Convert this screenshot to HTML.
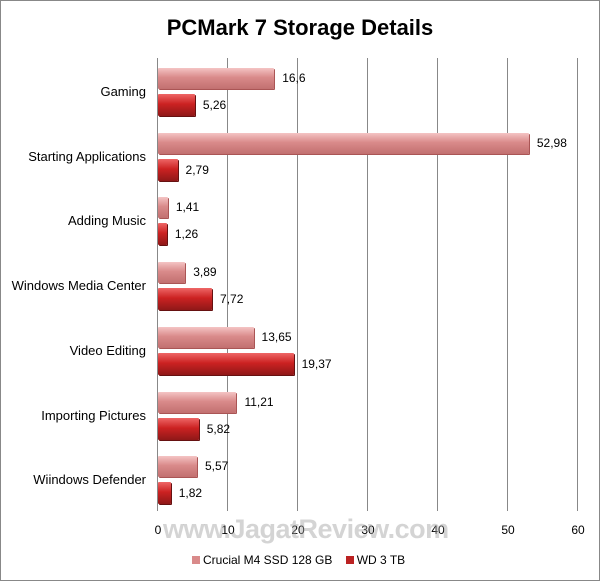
<!DOCTYPE html>
<html><head><meta charset="utf-8"><style>
body{margin:0;background:#fff}
.w{position:relative;width:598px;height:579px;border:1px solid #888;overflow:hidden;font-family:"Liberation Sans",sans-serif;background:#fff}
.t{position:absolute;top:14px;left:0;width:598px;text-align:center;font-size:22px;font-weight:bold}
.g{position:absolute;top:57px;height:453px;width:1px;background:#888}
.c{position:absolute;left:0;width:145px;text-align:right;font-size:13px}
.b{position:absolute;border-radius:1px}
.p{background:linear-gradient(#f4c4c4,#d98a8a 45%,#c27070);box-shadow:1px 1px 0 #a55}
.r{background:linear-gradient(#e66,#c22 45%,#901818);box-shadow:1px 1px 0 #611}
.v{position:absolute;font-size:12px}
.x{position:absolute;top:522px;font-size:12px;width:30px;margin-left:-15px;text-align:center}
</style></head><body><div class="w">
<div class="t">PCMark 7 Storage Details</div>
<div class="g" style="left:156px"></div><div class="g" style="left:226px"></div><div class="g" style="left:296px"></div><div class="g" style="left:366px"></div><div class="g" style="left:436px"></div><div class="g" style="left:506px"></div><div class="g" style="left:576px"></div>
<div id="bars"></div>
<div class="x" style="left:157px">0</div><div class="x" style="left:227px">10</div><div class="x" style="left:297px">20</div><div class="x" style="left:367px">30</div><div class="x" style="left:437px">40</div><div class="x" style="left:507px">50</div><div class="x" style="left:577px">60</div>
<div style="position:absolute;left:162px;top:513px;font-size:27px;font-weight:bold;color:rgba(160,160,160,0.45);letter-spacing:-0.5px">www.JagatReview.com</div>
<div style="position:absolute;left:191px;top:552px;font-size:12px"><span style="display:inline-block;width:8px;height:8px;background:#d98a8a;margin-right:3px"></span>Crucial M4 SSD 128 GB &nbsp;&nbsp; <span style="display:inline-block;width:8px;height:8px;background:#b22;margin-right:3px"></span>WD 3 TB</div>
<script>
var d=[["Gaming",16.6,5.26],["Starting Applications",52.98,2.79],["Adding Music",1.41,1.26],["Windows Media Center",3.89,7.72],["Video Editing",13.65,19.37],["Importing Pictures",11.21,5.82],["Wiindows Defender",5.57,1.82]];
var h="";d.forEach(function(e,i){var y=57+i*64.7;
h+='<div class="c" style="top:'+(y+26)+'px">'+e[0]+'</div>';
h+='<div class="b p" style="left:157px;top:'+(y+10)+'px;height:21px;width:'+(e[1]*7)+'px"></div>';
h+='<div class="b r" style="left:157px;top:'+(y+36)+'px;height:22px;width:'+(e[2]*7)+'px"></div>';
h+='<div class="v" style="left:'+(165+e[1]*7)+'px;top:'+(y+13)+'px">'+String(e[1]).replace(".",",")+'</div>';
h+='<div class="v" style="left:'+(165+e[2]*7)+'px;top:'+(y+40)+'px">'+String(e[2]).replace(".",",")+'</div>';});
document.getElementById("bars").innerHTML=h;
</script>
</div></body></html>
